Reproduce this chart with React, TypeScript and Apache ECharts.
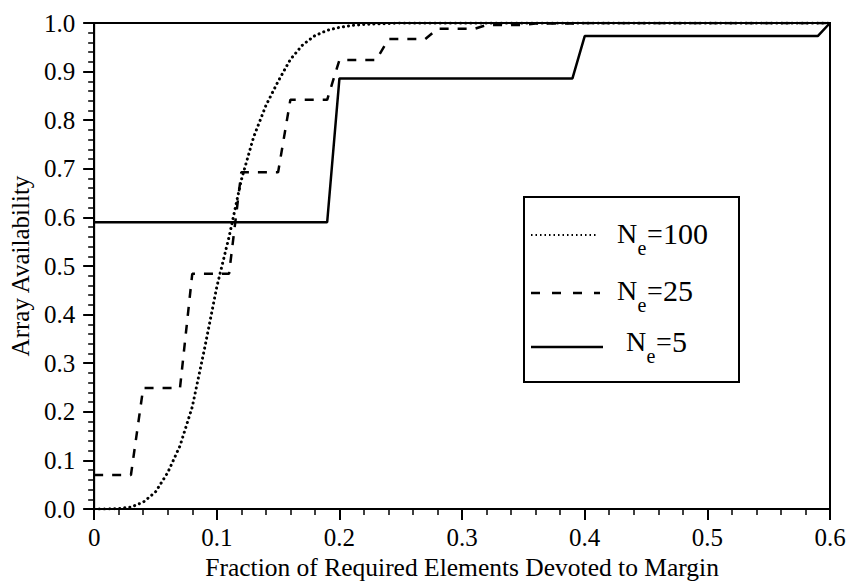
import React, { useEffect, useRef } from "react";
import * as echarts from "echarts";

// ---- data ----
const xTickLabels = ["0", "0.1", "0.2", "0.3", "0.4", "0.5", "0.6"];
const yTickLabels = ["0.0", "0.1", "0.2", "0.3", "0.4", "0.5", "0.6", "0.7", "0.8", "0.9", "1.0"];

// N_e = 100 (dotted)
const n100X = [0, 0.01, 0.02, 0.03, 0.04, 0.05, 0.06, 0.07, 0.08, 0.09, 0.1, 0.11, 0.12, 0.13, 0.14, 0.15, 0.16, 0.17, 0.18, 0.19, 0.2, 0.21, 0.22, 0.23, 0.24, 0.25, 0.3, 0.4, 0.5, 0.6];
const n100Y = [0, 0, 0.001, 0.004, 0.014, 0.035, 0.075, 0.13, 0.21, 0.33, 0.457, 0.56, 0.677, 0.765, 0.83, 0.88, 0.925, 0.955, 0.974, 0.985, 0.991, 0.995, 0.997, 0.998, 0.999, 1, 1, 1, 1, 1];

// N_e = 25 (dashed)
const n25X = [0, 0.03, 0.04, 0.07, 0.08, 0.11, 0.12, 0.15, 0.16, 0.19, 0.2, 0.23, 0.24, 0.27, 0.28, 0.31, 0.32, 0.35, 0.36, 0.39, 0.4, 0.6];
const n25Y = [0.07, 0.07, 0.249, 0.249, 0.484, 0.484, 0.693, 0.693, 0.842, 0.842, 0.924, 0.924, 0.967, 0.967, 0.988, 0.988, 0.996, 0.996, 0.999, 0.999, 1, 1];

// N_e = 5 (solid)
const n5X = [0, 0.19, 0.2, 0.39, 0.4, 0.59, 0.6];
const n5Y = [0.59, 0.59, 0.886, 0.886, 0.973, 0.973, 1];

const legendNames = ["100", "25", "5"];

const FONT = '"Liberation Serif", "Times New Roman", Times, serif';

const zip = (xs: number[], ys: number[]) => xs.map((x, i) => [x, ys[i]]);

export default function App() {
  const ref = useRef<HTMLDivElement>(null);
  useEffect(() => {
    if (!ref.current) return;
    const chart = echarts.init(ref.current, null, { renderer: "svg" });
    const rows = [
      { y: 233, ey: 248, nx: 617, line: { x1: 531, x2: 598, y: 235, dash: [1.5, 3], w: 2 } },
      { y: 290, ey: 305, nx: 617, line: { x1: 531, x2: 600, y: 293, dash: [9, 12], w: 2.5 } },
      { y: 341, ey: 356, nx: 626, line: { x1: 531, x2: 603, y: 347, dash: null as any, w: 2.5 } },
    ];
    const graphics: any[] = [
      {
        type: "rect",
        shape: { x: 524, y: 197, width: 215, height: 185 },
        style: { fill: "#fff", stroke: "#000", lineWidth: 2 },
        z: 100,
      },
    ];
    rows.forEach((r, i) => {
      graphics.push({
        type: "line",
        shape: { x1: r.line.x1, y1: r.line.y, x2: r.line.x2, y2: r.line.y },
        style: { stroke: "#000", lineWidth: r.line.w, lineDash: r.line.dash || undefined },
        z: 101,
      });
      graphics.push({
        type: "text", x: r.nx, y: r.y, z: 101,
        style: { text: "N", font: `28px ${FONT}`, fill: "#000", verticalAlign: "middle", align: "left" },
      });
      graphics.push({
        type: "text", x: r.nx + 20.5, y: r.ey, z: 101,
        style: { text: "e", font: `20px ${FONT}`, fill: "#000", verticalAlign: "middle", align: "left" },
      });
      graphics.push({
        type: "text", x: r.nx + 30, y: r.y, z: 101,
        style: { text: "=", font: `28px ${FONT}`, fill: "#000", verticalAlign: "middle", align: "left" },
      });
      graphics.push({
        type: "text", x: r.nx + 46, y: r.y, z: 101,
        style: { text: legendNames[i], font: `30px ${FONT}`, fill: "#000", verticalAlign: "middle", align: "left" },
      });
    });

    chart.setOption({
      animation: false,
      backgroundColor: "#fff",
      grid: {
        left: 92, right: 23, top: 23, bottom: 78,
        show: true, borderColor: "#000", borderWidth: 2, backgroundColor: "transparent",
      },
      xAxis: {
        type: "value", min: 0, max: 0.6, interval: 0.1,
        name: "Fraction of Required Elements Devoted to Margin",
        nameLocation: "middle", nameGap: 45,
        nameTextStyle: { fontFamily: FONT, fontSize: 25.5, color: "#000" },
        axisLine: { show: true, lineStyle: { color: "#000", width: 2 } },
        axisTick: { show: true, length: 11, lineStyle: { color: "#000", width: 2 } },
        minorTick: { show: true, splitNumber: 5, length: 6, lineStyle: { color: "#000", width: 1.5 } },
        splitLine: { show: false },
        axisLabel: {
          fontFamily: FONT, fontSize: 25, color: "#000", margin: 16,
          formatter: (v: number) => xTickLabels[Math.round(v * 10)] ?? "",
        },
      },
      yAxis: {
        type: "value", min: 0, max: 1, interval: 0.1,
        name: "Array Availability",
        nameLocation: "middle", nameGap: 56,
        nameTextStyle: { fontFamily: FONT, fontSize: 25, color: "#000" },
        axisLine: { show: true, lineStyle: { color: "#000", width: 2 } },
        axisTick: { show: true, length: 11, lineStyle: { color: "#000", width: 2 } },
        minorTick: { show: true, splitNumber: 5, length: 6, lineStyle: { color: "#000", width: 1.5 } },
        splitLine: { show: false },
        axisLabel: {
          fontFamily: FONT, fontSize: 25, color: "#000", margin: 19,
          formatter: (v: number) => yTickLabels[Math.round(v * 10)] ?? "",
        },
      },
      series: [
        {
          name: "N_e = 100", type: "line", data: zip(n100X, n100Y), showSymbol: false, symbol: "none",
          lineStyle: { color: "#000", width: 3, type: [0.1, 5], cap: "round" },
        },
        {
          name: "N_e = 25", type: "line", data: zip(n25X, n25Y), showSymbol: false, symbol: "none",
          lineStyle: { color: "#000", width: 2.5, type: [9, 9] },
        },
        {
          name: "N_e = 5", type: "line", data: zip(n5X, n5Y), showSymbol: false, symbol: "none",
          lineStyle: { color: "#000", width: 2.5 },
        },
      ],
      graphic: graphics,
    });
    return () => chart.dispose();
  }, []);
  return (
    <div
      ref={ref}
      style={{ position: "fixed", left: 0, top: 0, width: 853, height: 587, background: "#fff" }}
    />
  );
}
